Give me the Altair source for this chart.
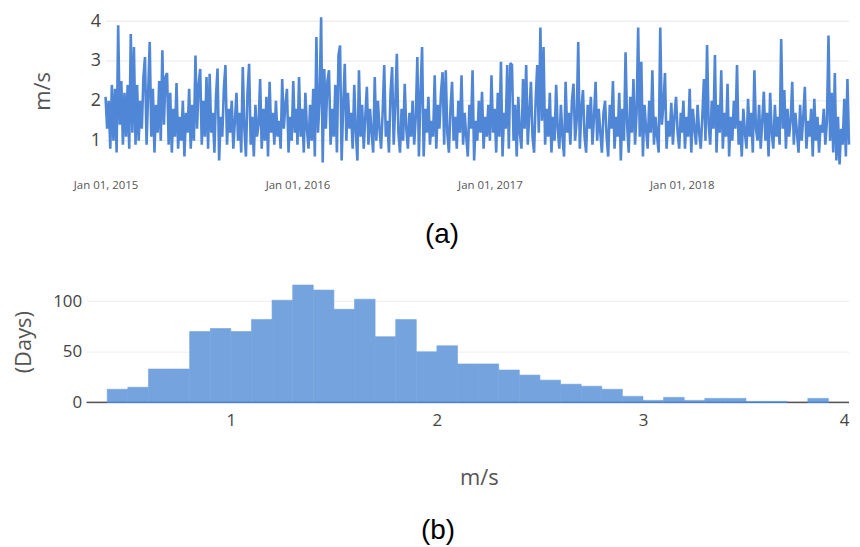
import altair as alt
import pandas as pd

# Daily mean wind speed (m/s) at a 3-day step, one list per year
y2015 = [2.1, 1.3, 2.0, 0.8, 2.4, 1.0, 2.3, 0.7, 3.9, 1.4,
         2.5, 0.9, 2.2, 1.1, 2.4, 0.8, 3.68, 1.2, 3.35, 0.9,
         2.4, 1.0, 2.0, 1.3, 2.6, 3.1, 0.9, 2.2, 3.48, 1.1,
         2.3, 0.7, 1.9, 1.2, 2.5, 1.0, 3.27, 1.4, 2.6, 2.7,
         0.9, 2.2, 0.7, 1.8, 1.1, 2.45, 0.8, 1.6, 1.0, 2.0,
         0.6, 1.7, 1.2, 2.3, 0.8, 1.9, 1.0, 3.14, 1.3, 2.4,
         2.8, 0.9, 2.0, 1.1, 2.6, 0.8, 2.68, 1.2, 1.7, 0.7,
         2.1, 2.81, 0.5, 1.6, 1.1, 2.3, 2.9, 0.9, 1.8, 1.2,
         2.0, 0.8, 1.5, 2.2, 1.0, 1.7, 0.7, 2.85, 1.3, 0.6,
         2.2, 2.93, 0.9, 1.6, 0.6, 1.9, 1.1, 1.4, 2.55, 0.8,
         1.8, 1.0, 2.1, 0.6, 2.48, 1.2, 1.7, 0.9, 2.0, 1.1,
         1.5, 0.8, 2.55, 1.3, 1.9, 2.3, 0.7, 1.6, 1.0, 2.5,
         1.2, 1.8]
y2016 = [0.9, 2.6, 1.1, 1.8, 0.7, 2.2, 1.3, 0.8, 1.9, 1.0,
         2.3, 0.6, 3.6, 1.2, 2.0, 4.1, 0.45, 2.8, 1.3, 2.5,
         2.77, 0.9, 1.8, 1.1, 2.4, 0.7, 3.14, 3.39, 0.5, 1.9,
         2.93, 1.0, 2.2, 1.3, 1.7, 0.8, 2.4, 1.2, 0.5, 2.77,
         1.1, 1.9, 0.8, 1.6, 2.35, 0.9, 1.8, 1.2, 0.7, 2.6,
         1.0, 2.0, 1.3, 0.8, 1.7, 2.9, 1.1, 1.5, 0.7, 2.2,
         2.85, 0.9, 1.9, 3.18, 1.2, 0.7, 1.8, 1.0, 2.43, 1.3,
         0.8, 1.7, 1.1, 2.0, 0.9, 1.6, 3.1, 0.6, 2.2, 3.35,
         0.6, 1.8, 1.2, 2.1, 0.9, 1.5, 1.1, 2.64, 0.8, 1.9,
         1.3, 2.2, 2.72, 0.9, 2.77, 1.2, 0.7, 1.8, 2.48, 1.0,
         1.6, 0.8, 2.0, 1.2, 2.64, 0.9, 1.7, 1.1, 0.6, 1.9,
         1.3, 2.77, 0.5, 1.5, 1.0, 2.0, 1.2, 2.23, 0.8, 1.6,
         1.1, 1.9]
y2017 = [1.0, 2.64, 1.2, 1.8, 0.7, 2.2, 1.1, 2.98, 0.6, 1.7,
         1.3, 2.9, 0.8, 2.95, 2.9, 1.0, 1.9, 0.6, 2.1, 1.2,
         0.8, 2.55, 1.3, 2.9, 0.9, 1.7, 2.48, 1.1, 0.7, 2.0,
         2.9, 1.2, 3.84, 1.5, 3.35, 0.9, 1.8, 1.1, 2.2, 0.7,
         1.6, 1.0, 2.4, 1.3, 0.8, 1.9, 1.1, 0.6, 2.48, 1.2,
         1.7, 0.9, 2.0, 2.43, 1.0, 1.5, 3.48, 0.8, 1.8, 2.27,
         1.1, 0.7, 1.9, 1.3, 2.1, 0.9, 1.6, 2.48, 1.0, 1.8,
         1.2, 0.7, 1.7, 2.0, 1.1, 0.6, 1.9, 1.3, 2.5, 0.8,
         1.6, 1.1, 2.2, 0.5, 1.8, 1.0, 3.22, 1.4, 0.7, 2.1,
         1.2, 2.55, 0.9, 1.7, 3.84, 1.1, 2.98, 0.6, 1.9, 1.3,
         0.8, 2.0, 1.2, 2.77, 0.9, 1.6, 1.1, 0.7, 3.84, 1.4,
         1.9, 2.7, 0.8, 1.5, 1.1, 1.95, 0.9, 1.6, 2.1, 1.2,
         0.8, 1.7]
y2018 = [1.2, 2.0, 0.8, 1.6, 1.1, 2.3, 0.7, 1.8, 1.3, 0.9,
         1.9, 1.2, 0.8, 1.6, 2.55, 1.0, 3.4, 1.4, 0.9, 2.0,
         1.3, 3.15, 0.7, 1.9, 1.2, 2.77, 0.8, 1.7, 1.1, 2.43,
         0.6, 1.6, 1.0, 2.0, 1.3, 2.9, 0.9, 1.5, 0.6, 1.8,
         1.2, 0.8, 2.05, 1.1, 1.7, 0.7, 2.77, 1.3, 1.0, 1.9,
         0.8, 1.5, 2.23, 1.0, 1.7, 0.6, 2.2, 1.2, 0.8, 1.9,
         1.1, 1.6, 0.9, 3.55, 1.3, 2.27, 0.8, 1.8, 1.1, 1.5,
         2.48, 0.9, 1.7, 1.2, 0.7, 1.9, 1.0, 1.6, 2.35, 0.8,
         1.5, 1.1, 1.8, 0.6, 2.05, 1.0, 1.6, 0.7, 1.4, 1.2,
         1.8, 0.9, 1.5, 3.64, 1.0, 2.2, 0.7, 2.7, 0.5, 1.6,
         0.4, 1.3, 0.9, 2.05, 0.6, 2.55, 0.9]

# Histogram of daily wind speed: bin starts (m/s, width 0.1) and counts (days)
bin_start = [round(0.3 + 0.1 * i, 1) for i in range(37)]
bin_count = [0, 13, 15, 33, 33, 70, 73, 70, 82, 101,
             116, 111, 92, 102, 65, 82, 50, 56, 38, 38,
             32, 27, 22, 18, 16, 13, 6, 2, 5, 2,
             4, 4, 1, 1, 0, 4, 0]

y_ticks_top = [1, 2, 3, 4]
year_ticks = [2015, 2016, 2017, 2018]

rows = []
for year, vals in [(2015, y2015), (2016, y2016), (2017, y2017), (2018, y2018)]:
    start = pd.Timestamp(f"{year}-01-01")
    for i, v in enumerate(vals):
        rows.append({"date": (start + pd.Timedelta(days=3 * i)).strftime("%Y-%m-%d"), "speed": v})
ts = pd.DataFrame(rows)

grid_df = pd.DataFrame({"v": y_ticks_top, "start": ts["date"].iloc[0], "end": ts["date"].iloc[-1]})

hist = pd.DataFrame({"b0": bin_start, "b1": [round(b + 0.1, 1) for b in bin_start], "count": bin_count})

LINE = "#4f86d6"
BAR = "#74a3dd"
LABEL = "#444444"
FONT = "Open Sans"

xdom = [alt.DateTime(year=2014, month=11, date=26, utc=True),
        alt.DateTime(year=2018, month=11, date=15, utc=True)]
xscale = alt.Scale(type="utc", domain=xdom)
yscale = alt.Scale(domain=[0.3, 4.2])

grid = alt.Chart(grid_df).mark_rule(color="#e8e8e8", strokeWidth=1).encode(
    x=alt.X("start:T", scale=xscale),
    x2="end:T",
    y=alt.Y("v:Q", scale=yscale, title="m/s"),
)

line = alt.Chart(ts).mark_line(color=LINE, strokeWidth=2.6, strokeJoin="miter", strokeMiterLimit=2).encode(
    x=alt.X("date:T", scale=xscale,
            axis=alt.Axis(values=[alt.DateTime(year=y, month=1, date=1, utc=True) for y in year_ticks],
                          format="%b %d, %Y", grid=False, ticks=False, domain=False,
                          labelFontSize=11.5, labelColor="#555555", labelPadding=11, labelFont=FONT),
            title=None),
    y=alt.Y("speed:Q", scale=yscale,
            axis=alt.Axis(values=y_ticks_top, grid=False, ticks=False, domain=False, offset=-19,
                          labelFontSize=18, labelColor=LABEL, labelPadding=5, labelFont=FONT,
                          titleFontSize=22, titleColor="#555555", titleFontWeight="normal",
                          titlePadding=36, titleFont=FONT),
            title="m/s"),
)

top = alt.layer(grid, line).properties(
    width=766, height=156,
    title=alt.TitleParams("(a)", orient="bottom", anchor="middle", fontSize=28, font="Liberation Sans",
                          fontWeight="normal", color="#000000", offset=30, dx=-26),
)

xb = alt.Scale(domain=[0.3, 4.0], nice=False)
yb = alt.Scale(domain=[0, 120], nice=False)

bars = alt.Chart(hist).mark_rect(color=BAR, stroke=BAR, strokeWidth=0.6).encode(
    x=alt.X("b0:Q", scale=xb,
            axis=alt.Axis(values=[1, 2, 3, 4], format="d", grid=False, ticks=False, domain=False,
                          labelFontSize=17, labelColor=LABEL, labelPadding=10, labelFont=FONT,
                          labelFlush=True,
                          titleFontSize=22, titleColor="#555555", titleFontWeight="normal",
                          titlePadding=39, titleFont=FONT, titleX=394),
            title="m/s"),
    x2="b1:Q",
    y=alt.Y("count:Q", scale=yb,
            axis=alt.Axis(values=[0, 50, 100], grid=True, gridColor="#eeeeee", ticks=False, domain=False,
                          labelFontSize=17, labelColor=LABEL, labelPadding=5, labelFont=FONT,
                          titleFontSize=22, titleColor="#555555", titleFontWeight="normal",
                          titlePadding=17, titleFont=FONT),
            title="(Days)"),
    y2=alt.datum(0),
)

base = alt.Chart(hist).mark_rule(strokeWidth=1.5).encode(
    x=alt.X("b0:Q", scale=xb),
    x2="b1:Q",
    y=alt.datum(0),
    color=alt.condition(alt.datum.count > 0, alt.value("#4a7fd0"), alt.value("#555555")),
)

bottom = alt.layer(bars, base).properties(
    width=766, height=122,
    title=alt.TitleParams("(b)", orient="bottom", anchor="middle", fontSize=28, font="Liberation Sans",
                          fontWeight="normal", color="#000000", offset=29, dx=-30),
)

chart = alt.vconcat(top, bottom, spacing=32).properties(
    padding={"left": 4, "top": 3, "right": 0, "bottom": 0}
).configure(font=FONT).configure_view(stroke=None)

chart.save("out.html", embed_options={"renderer": "svg", "actions": False})
